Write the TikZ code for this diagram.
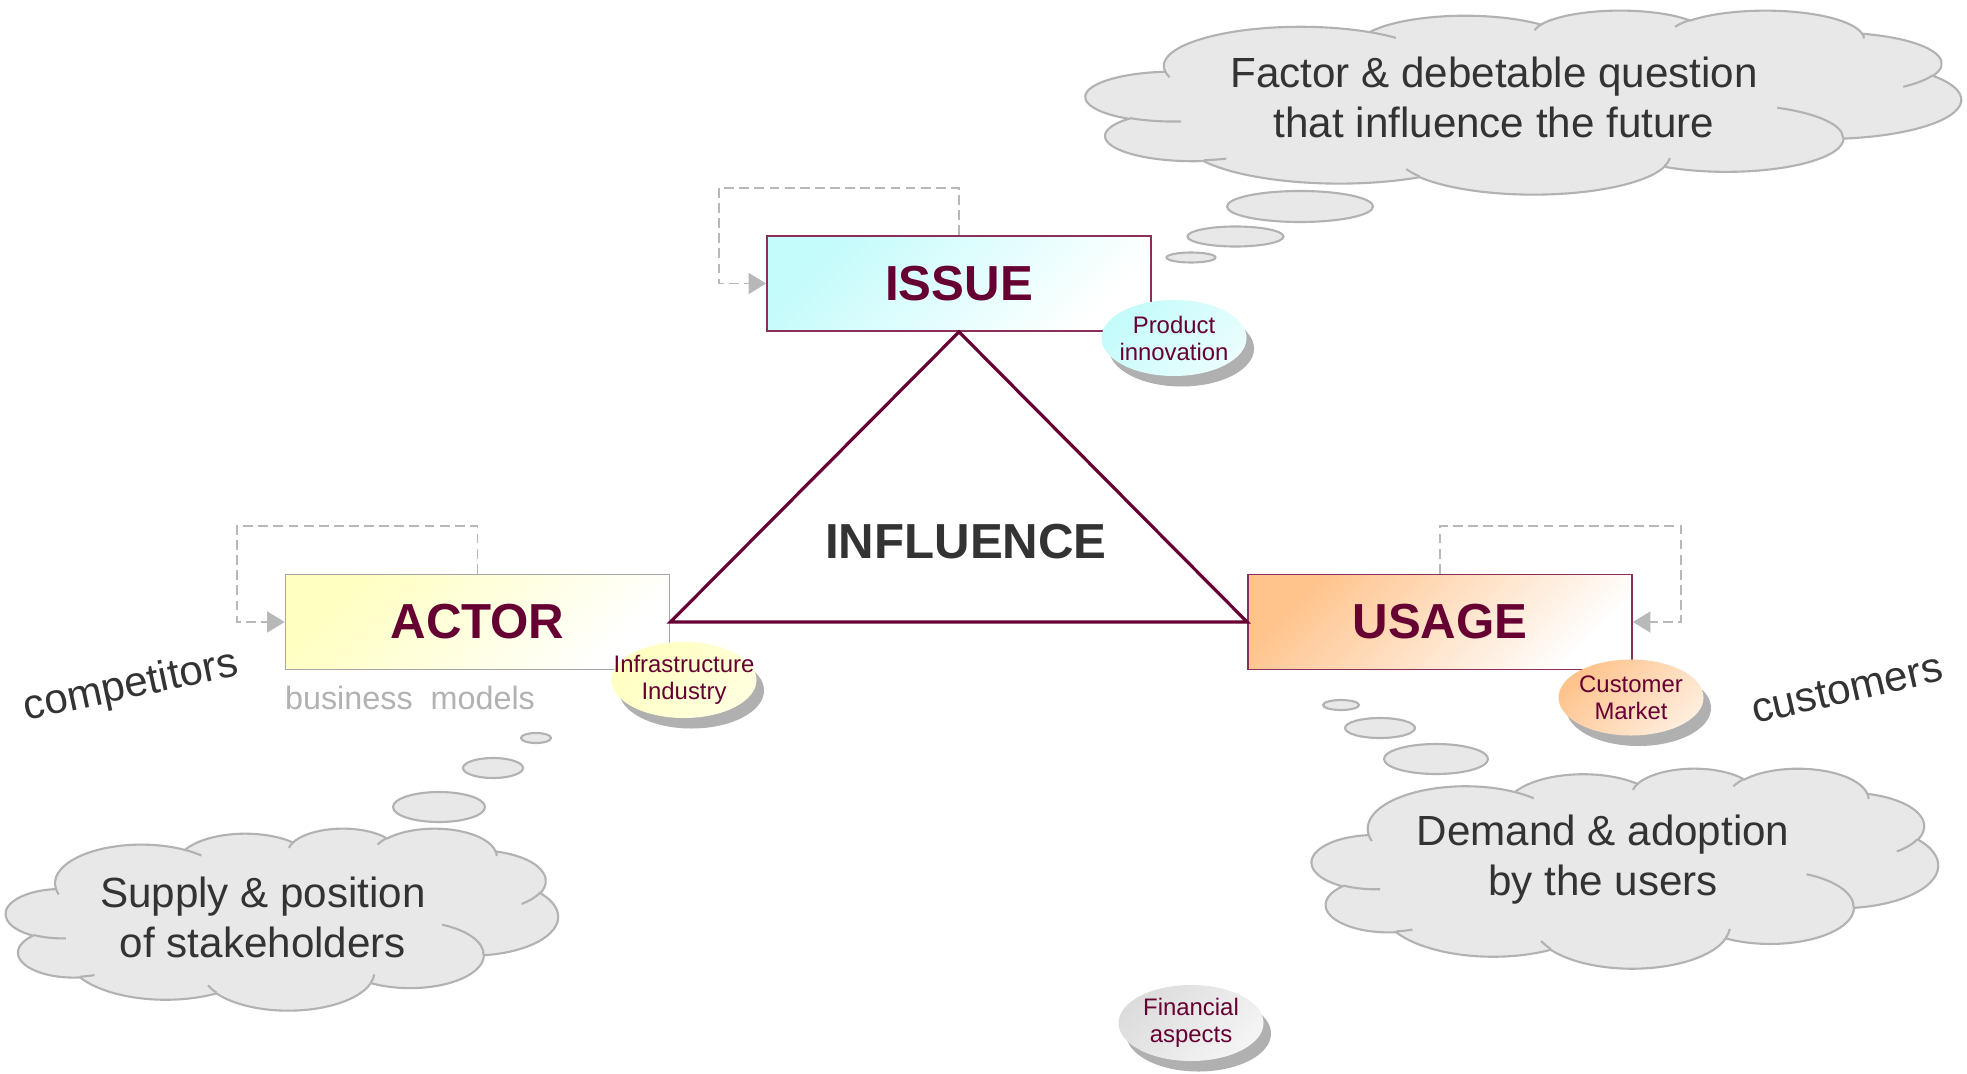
\documentclass[tikz,border=0pt]{standalone}
\usepackage{fontspec}
\setmainfont{Liberation Sans}
\usetikzlibrary{arrows.meta,shapes.geometric,shadows}

\definecolor{wine}{HTML}{660033}
\definecolor{rim}{HTML}{8C2E5A}
\definecolor{ink}{HTML}{333333}
\definecolor{cloudfill}{HTML}{E8E8E8}
\definecolor{cloudrim}{HTML}{B2B2B2}
\definecolor{loopgray}{HTML}{B8B8B8}
\definecolor{shadegray}{HTML}{B0B0B0}
\definecolor{issuecyan}{HTML}{C4FBFB}
\definecolor{actoryellow}{HTML}{FFFFC0}
\definecolor{usageorange}{HTML}{FFC38C}
\definecolor{moneygray}{HTML}{DCDCDC}

% thought cloud, top left corner at (#1,#2), width #3, height #4
\newcommand{\thoughtcloud}[4]{%
  \begin{scope}[shift={(#1,#2)}, xscale=#3/43.2, yscale=-#4/43.2]
    \filldraw[bubble] (3.9,14.37)
      arc[start angle=-187.75, delta angle=128.12, x radius=6.753, y radius=9.19]
      arc[start angle=-152.02, delta angle=106.56, x radius=5.333, y radius=7.267]
      arc[start angle=-153.48, delta angle=116.15, x radius=4.365, y radius=5.945]
      arc[start angle=-139.71, delta angle=129.49, x radius=4.857, y radius=6.595]
      arc[start angle=-74.76, delta angle=97.98, x radius=5.333, y radius=7.273]
      arc[start angle=-37.52, delta angle=119.38, x radius=6.775, y radius=9.22]
      arc[start angle=0.46, delta angle=121.53, x radius=5.785, y radius=7.867]
      arc[start angle=16.84, delta angle=129.41, x radius=6.752, y radius=9.215]
      arc[start angle=59.00, delta angle=91.17, x radius=7.72, y radius=10.543]
      arc[start angle=-276.69, delta angle=139.80, x radius=4.36, y radius=5.918]
      arc[start angle=-239.66, delta angle=143.77, x radius=4.345, y radius=5.945]
      -- cycle;
    % inner folds
    \draw[cloudrim, line width=0.6pt]
      (4.693,26.177) arc[start angle=85.54, delta angle=34.80, x radius=4.345, y radius=5.945]
      (6.928,34.899) arc[start angle=68.26, delta angle=15.05, x radius=4.36, y radius=5.918]
      (16.478,39.09) arc[start angle=146.25, delta angle=12.22, x radius=6.752, y radius=9.215]
      (28.827,34.751) arc[start angle=4.73, delta angle=12.11, x radius=6.752, y radius=9.215]
      (34.129,22.954) arc[start angle=-63.99, delta angle=64.45, x radius=5.785, y radius=7.867]
      (41.798,15.354) arc[start angle=23.22, delta angle=26.43, x radius=5.333, y radius=7.273]
      (38.324,5.426) arc[start angle=-10.22, delta angle=11.04, x radius=4.857, y radius=6.595]
      (29.078,3.952) arc[start angle=-156.28, delta angle=16.57, x radius=4.857, y radius=6.595]
      (22.141,4.72) arc[start angle=-167.72, delta angle=14.24, x radius=4.365, y radius=5.945]
      (14.0,5.192) arc[start angle=-59.63, delta angle=13.89, x radius=6.753, y radius=9.19]
      (4.127,15.789) arc[start angle=163.19, delta angle=9.06, x radius=6.753, y radius=9.19];
  \end{scope}}

\begin{document}
\begin{tikzpicture}[
    headbox/.style={rectangle, minimum width=3.84cm, minimum height=0.95cm, inner sep=0pt, line width=0.5pt, text=wine, font=\fontsize{14}{16}\selectfont\bfseries},
    tagball/.style={ellipse, minimum width=1.45cm, minimum height=0.76cm, inner sep=0pt, drop shadow={shadow xshift=0.75mm, shadow yshift=-1.05mm, fill=shadegray, opacity=1}},
    tagtext/.style={align=center, text=wine, font=\fontsize{6.8}{7.7}\selectfont},
    loopline/.style={draw=loopgray, line width=0.5pt, dash pattern=on 2.8pt off 1.5pt, -{Triangle[length=5pt,width=6pt,fill=loopgray]}},
    bubble/.style={fill=cloudfill, draw=cloudrim, line width=0.6pt},
    thought/.style={align=center, text=ink, font=\fontsize{12}{14.2}\selectfont},
  ]
	\tikzstyle{every node}=[font=\fontsize{12}{14}\selectfont]
	\useasboundingbox (0,0) rectangle (19.67,10.73);
	\fill[white] (0,0) rectangle (19.67,10.73);
	
	% clouds and their trailing bubbles
	\thoughtcloud{10.86}{10.63}{8.75}{1.84}
	\draw[bubble] (13.00,8.665) ellipse (0.73 and 0.155);
	\draw[bubble] (12.355,8.365) ellipse (0.48 and 0.1);
	\draw[bubble] (11.91,8.155) ellipse (0.245 and 0.05);
	\node[thought] (factor) at (14.94,9.76) {Factor \& debetable question\\that influence the future};
	
	\thoughtcloud{0.06}{2.45}{5.52}{1.82}
	\draw[bubble] (4.39,2.66) ellipse (0.46 and 0.15);
	\draw[bubble] (4.93,3.05) ellipse (0.30 and 0.10);
	\draw[bubble] (5.36,3.35) ellipse (0.15 and 0.05);
	\node[thought] (supply) at (2.63,1.56) {Supply \& position\\of stakeholders};
	
	\thoughtcloud{13.12}{3.05}{6.26}{2.00}
	\draw[bubble] (13.41,3.68) ellipse (0.18 and 0.05);
	\draw[bubble] (13.80,3.45) ellipse (0.35 and 0.10);
	\draw[bubble] (14.36,3.14) ellipse (0.52 and 0.15);
	\node[thought] (demand) at (16.03,2.13) {Demand \& adoption\\by the users};
	
	% the three poles
	\node[headbox, draw=rim, top color=issuecyan, bottom color=white, shading angle=45] (issue) at (9.59,7.895) {ISSUE};
	\node[headbox, draw=gray!70, top color=actoryellow, bottom color=white, shading angle=45] (actor) at (4.775,4.51) {ACTOR};
	\node[headbox, draw=rim, top color=usageorange, bottom color=white, shading angle=45] (usage) at (14.40,4.51) {USAGE};
	
	\draw[wine, line width=0.9pt] (issue.south) -- (actor.east) -- (usage.west) -- cycle;
	\node[text=ink, font=\fontsize{14}{16}\selectfont\bfseries] (influence) at (9.66,5.31) {INFLUENCE};
	
	\coordinate (issueloop) at (7.19,8.85);
	\coordinate (actorloop) at (2.37,5.47);
	\coordinate (usageloop) at (16.81,5.47);
	\draw[loopline] (issue.north) |- (issueloop) |- (issue.west);
	\draw[loopline] (actor.north) |- (actorloop) |- (actor.west);
	\draw[loopline] (usage.north) |- (usageloop) |- (usage.east);
	
	% side labels
	\node[text=ink, rotate=12] (competitors) at (1.31,3.86) {competitors};
	\node[text=ink, rotate=13] (customers) at (18.47,3.84) {customers};
	\node[text=gray!60, font=\fontsize{9.2}{11}\selectfont] (business) at (4.10,3.755) {business~~models};
	
	% small tags
	\node[tagball, top color=issuecyan, bottom color=issuecyan!35, shading angle=45] (product) at (11.74,7.35) {};
	\node[tagtext] (producttxt) at (product) {Product\\innovation};
	\node[tagball, top color=actoryellow, bottom color=actoryellow!50, shading angle=45] (infra) at (6.84,3.93) {};
	\node[tagtext] (infratxt) at (infra) {Infrastructure\\Industry};
	\node[tagball, top color=usageorange, bottom color=usageorange!30, shading angle=45] (market) at (16.31,3.755) {};
	\node[tagtext] (markettxt) at (market) {Customer\\Market};
	\node[tagball, top color=moneygray, bottom color=moneygray!30, shading angle=45] (money) at (11.91,0.50) {};
	\node[tagtext] (moneytxt) at (money) {Financial\\aspects};
	
\end{tikzpicture}
\end{document}
